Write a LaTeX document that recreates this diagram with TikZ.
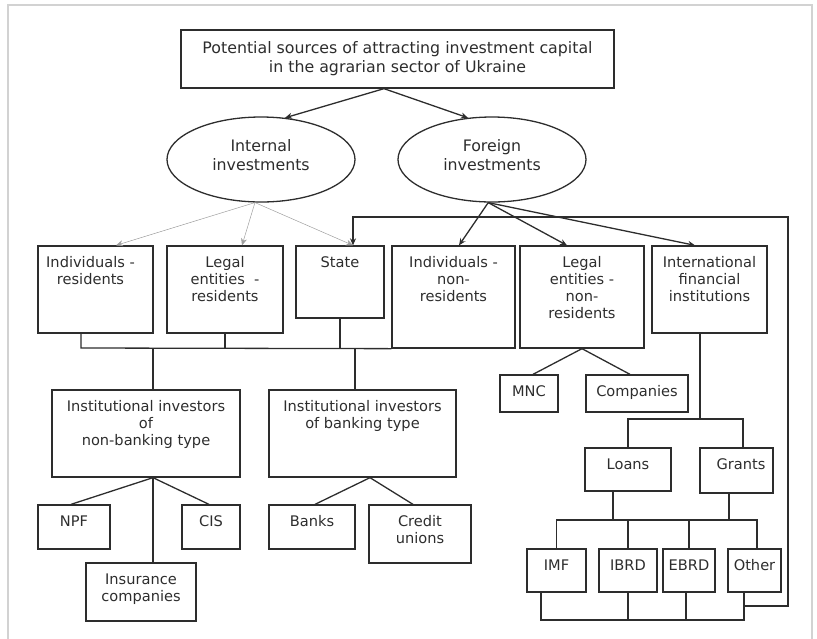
\documentclass[tikz,border=0pt]{standalone}
\usepackage{fontspec}
\setmainfont{DejaVu Sans}
\usetikzlibrary{shapes.geometric, positioning, arrows.meta}
\tikzset{>={Stealth[length=7pt,width=6pt]}}
\definecolor{framegray}{RGB}{210,210,210}
\definecolor{linegray}{RGB}{45,45,45}
\newcommand{\bigfont}{\fontsize{15.8}{19}\selectfont}
\newcommand{\boxfont}{\fontsize{14.6}{17}\selectfont}

\begin{document}
\begin{tikzpicture}[x=1pt, y=-1pt,
		box/.style={draw=linegray, line width=1.3pt, inner sep=0pt},
		boxlbl/.style={anchor=north, align=center, inner sep=0pt, yshift=-11pt, font=\boxfont, text=linegray},
		oval/.style={draw=linegray, line width=1.3pt, ellipse, minimum width=188pt, minimum height=85pt, inner sep=0pt},
		ovallbl/.style={align=center, inner sep=0pt, yshift=4.5pt, font=\bigfont, text=linegray},
		link/.style={draw=linegray, line width=1.3pt},
		thinarrow/.style={->, draw=gray!75, line width=0.5pt}]
			\useasboundingbox (0,0) rectangle (817,638);
			\draw [framegray, line width=2.5pt] (8,640) -- (8,5) -- (812,5) -- (812,640);
			% top level
			\node [box, minimum width=433pt, minimum height=58pt, align=center, font=\bigfont, text=linegray] (title) at (397.5,59) {Potential sources of attracting investment capital\\in the agrarian sector of Ukraine};
			\node [oval, label={[ovallbl]center:Internal\\investments}] (intinv) at (261,159.5) {};
			\node [oval, label={[ovallbl]center:Foreign\\investments}] (forinv) at (492,159.5) {};
			\draw [link, ->] ([xshift=-13.5pt]title.south) -- (intinv.60);
			\draw [link, ->] ([xshift=-13.5pt]title.south) -- (forinv.120);
			% investors
			\node [box, minimum width=115pt, minimum height=87pt, label={[boxlbl, xshift=-5pt]north:Individuals -\\residents}] (indres) at (95.5,289.5) {};
			\node [box, minimum width=116pt, minimum height=87pt, label={[boxlbl]north:Legal\\entities \ -\\residents}] (legres) at (225,289.5) {};
			\node [box, minimum width=88pt, minimum height=72pt, label={[boxlbl]north:State}] (state) at (340,282) {};
			\node [box, minimum width=123pt, minimum height=102pt, label={[boxlbl]north:Individuals -\\non-\\residents}] (indnon) at (453.5,297) {};
			\node [box, minimum width=124pt, minimum height=102pt, label={[boxlbl]north:Legal\\entities -\\non-\\residents}] (legnon) at (582,297) {};
			\node [box, minimum width=115pt, minimum height=87pt, label={[boxlbl]north:International\\financial\\institutions}] (ifi) at (709.5,289.5) {};
			\draw [thinarrow] (intinv.262) -- ([xshift=20.5pt]indres.north);
			\draw [thinarrow] (intinv.262) -- ([xshift=17pt]legres.north);
			\draw [thinarrow] (intinv.262) -- ([xshift=13pt]state.north);
			\draw [link, ->] (forinv.265) -- ([xshift=5.5pt]indnon.north);
			\draw [link, ->] (forinv.265) -- ([xshift=-15pt]legnon.north);
			\draw [link, ->] (forinv.265) -- ([xshift=-14.5pt]ifi.north);
			% institutional investors
			\node [box, minimum width=188pt, minimum height=87pt, label={[boxlbl]north:Institutional investors\\of\\non-banking type}] (nonbank) at (146,433.5) {};
			\node [box, minimum width=187pt, minimum height=87pt, label={[boxlbl]north:Institutional investors\\of banking type}] (bank) at (362.5,433.5) {};
			\coordinate (rowbus) at (81,348);
			\coordinate (nbdrop) at ([xshift=7pt]nonbank.north);
			\coordinate (bkdrop) at ([xshift=-7.5pt]bank.north);
			\draw [link] ([xshift=-14.5pt]indres.south) -- (rowbus) -- (indnon.south west);
			\draw [link] (legres.south) -- (legres.south |- rowbus);
			\draw [link] (state.south) -- (state.south |- rowbus);
			\draw [link] (nbdrop |- rowbus) -- (nbdrop);
			\draw [link] (bkdrop |- rowbus) -- (bkdrop);
			\node [box, minimum width=72pt, minimum height=44pt, label={[boxlbl]north:NPF}] (npf) at (74,527) {};
			\node [box, minimum width=58pt, minimum height=44pt, label={[boxlbl]north:CIS}] (cis) at (211,527) {};
			\node [box, minimum width=110pt, minimum height=58pt, label={[boxlbl]north:Insurance\\companies}] (insur) at (141,592) {};
			\node [box, minimum width=86pt, minimum height=44pt, label={[boxlbl]north:Banks}] (banks) at (312,527) {};
			\node [box, minimum width=102pt, minimum height=58pt, label={[boxlbl]north:Credit\\unions}] (credit) at (420,534) {};
			\coordinate (nbfan) at ([xshift=7pt]nonbank.south);
			\coordinate (bkfan) at ([xshift=7.5pt]bank.south);
			\draw [link] (nbfan) -- ([xshift=-3pt]npf.north);
			\draw [link] (nbfan) -- ([xshift=-2pt]cis.north);
			\draw [link] (nbfan) -- ([xshift=12pt]insur.north);
			\draw [link] (bkfan) -- ([xshift=3pt]banks.north);
			\draw [link] (bkfan) -- ([xshift=-7pt]credit.north);
			% foreign side
			\node [box, minimum width=58pt, minimum height=37pt, label={[boxlbl]north:MNC}] (mnc) at (529,393.5) {};
			\node [box, minimum width=102pt, minimum height=37pt, label={[boxlbl]north:Companies}] (comp) at (637,393.5) {};
			\draw [link] (legnon.south) -- ([xshift=4pt]mnc.north);
			\draw [link] (legnon.south) -- ([xshift=-7pt]comp.north);
			\node [box, minimum width=86pt, minimum height=43pt, label={[boxlbl]north:Loans}] (loans) at (628,469.5) {};
			\node [box, minimum width=73pt, minimum height=45pt, label={[boxlbl, xshift=4.5pt]north:Grants}] (grants) at (736.5,470.5) {};
			\coordinate (ifidrop) at ([xshift=-9.5pt]ifi.south);
			\coordinate (lgbusL) at (628,419);
			\coordinate (lgbusR) at (743,419);
			\draw [link] (ifidrop) -- (ifidrop |- lgbusL);
			\draw [link] (loans.north) -- (lgbusL) -- (lgbusR) -- (lgbusR |- grants.north);
			\node [box, minimum width=59pt, minimum height=43pt, label={[boxlbl]north:IMF}] (imf) at (556.5,570.5) {};
			\node [box, minimum width=58pt, minimum height=43pt, label={[boxlbl]north:IBRD}] (ibrd) at (628,570.5) {};
			\node [box, minimum width=52pt, minimum height=43pt, label={[boxlbl]north:EBRD}] (ebrd) at (689,570.5) {};
			\node [box, minimum width=53pt, minimum height=43pt, label={[boxlbl]north:Other}] (other) at (754.5,570.5) {};
			\coordinate (loandrop) at ([xshift=-15pt]loans.south);
			\coordinate (grantdrop) at ([xshift=-7.5pt]grants.south);
			\coordinate (topbusL) at (556,520);
			\coordinate (topbusR) at (757,520);
			\draw [link] (loandrop) -- (loandrop |- topbusL);
			\draw [link] (grantdrop) -- (grantdrop |- topbusL);
			\draw [link] (imf.north) |- (topbusR) -- (topbusR |- other.north);
			\draw [link] (ibrd.north) -- (ibrd.north |- topbusL);
			\draw [link] (ebrd.north) -- (ebrd.north |- topbusL);
			\coordinate (botbusL) at (541,620);
			\coordinate (botbusR) at (744,620);
			\draw [link] (botbusL |- imf.south) -- (botbusL) -- (botbusR) -- (botbusR |- other.south);
			\draw [link] (ibrd.south) -- (ibrd.south |- botbusL);
			\draw [link] ([xshift=-3pt]ebrd.south) -- ([xshift=-3pt]ebrd.south |- botbusL);
			% back to the state
			\coordinate (fbjoin) at (744,606);
			\coordinate (fbcorner) at (788,217);
			\draw [link, ->] (fbjoin) -| (fbcorner) -| ([xshift=13pt]state.north);
		\end{tikzpicture}
\end{document}
